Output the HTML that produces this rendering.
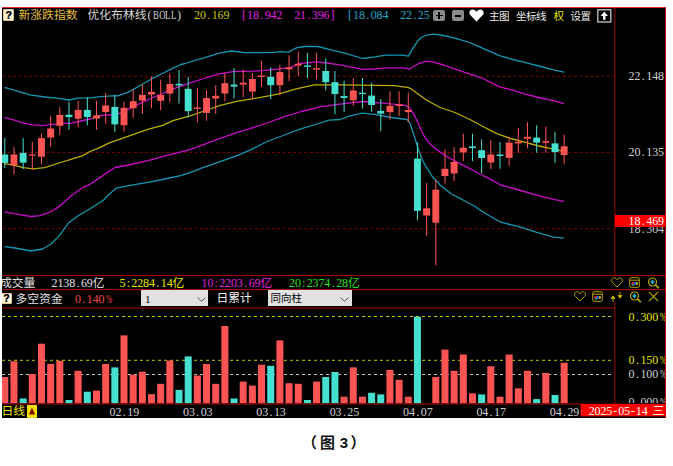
<!DOCTYPE html>
<html><head><meta charset="utf-8"><title>chart</title><style>
html,body{margin:0;padding:0;background:#fff;}
body{width:673px;height:466px;position:relative;overflow:hidden;}
.t{position:absolute;white-space:pre;font-size:12px;line-height:12px;}
.t i{display:inline-block;width:5.9px;text-align:center;font:12px/12px "Liberation Serif","Noto Serif CJK SC",serif;font-style:normal;vertical-align:top;}
.t b{display:inline-block;width:11.8px;text-align:center;font:11.8px/12px "Liberation Sans","Noto Sans CJK SC",sans-serif;font-weight:normal;vertical-align:top;}
.t u{display:inline-block;text-decoration:none;transform:scaleX(.72);}
.t u.p{transform:scaleX(.62);}
.clipb{position:absolute;left:615px;top:308px;width:50px;height:95px;overflow:hidden;}
.clipb .t{margin-left:-615px;margin-top:-308px;}
.s{font-family:"Liberation Sans","Noto Sans CJK SC",sans-serif;line-height:12px;}
.cap{font-family:"Liberation Sans","Noto Sans CJK SC",sans-serif;font-weight:bold;font-size:15px;line-height:16px;color:#111;}
.ico{position:absolute;}
</style></head><body>
<svg width="673" height="466" style="position:absolute;left:0;top:0">
<rect x="2" y="7" width="664" height="411" fill="#000"/>
<rect x="2" y="7" width="664" height="1" fill="#e8262a"/>
<rect x="665" y="7" width="1" height="411" fill="#c80000"/>
<rect x="2" y="275.0" width="663" height="1.1" fill="#a80000"/>
<rect x="2" y="289.0" width="663" height="1.1" fill="#a80000"/>
<rect x="2" y="307.5" width="613" height="1.1" fill="#a80000"/>
<rect x="2" y="403.4" width="579" height="1.1" fill="#a80000"/>
<rect x="614.3" y="8" width="1" height="267" fill="#a00000"/>
<rect x="614.3" y="302" width="1" height="101.5" fill="#a00000"/>
<line x1="2" y1="76.3" x2="614" y2="76.3" stroke="#7c0000" stroke-width="1" stroke-dasharray="3 2.5"/>
<line x1="2" y1="152.4" x2="614" y2="152.4" stroke="#7c0000" stroke-width="1" stroke-dasharray="3 2.5"/>
<line x1="2" y1="228.7" x2="614" y2="228.7" stroke="#7c0000" stroke-width="1" stroke-dasharray="3 2.5"/>
<line x1="2" y1="316.5" x2="614" y2="316.5" stroke="#c8c800" stroke-width="1" stroke-dasharray="3 3"/>
<line x1="2" y1="360.3" x2="614" y2="360.3" stroke="#c8c800" stroke-width="1" stroke-dasharray="3 3"/>
<line x1="2" y1="374.5" x2="614" y2="374.5" stroke="#c0c0c0" stroke-width="1" stroke-dasharray="3 3"/>
<defs><clipPath id="cc"><rect x="2" y="22" width="612" height="253"/></clipPath><clipPath id="cb"><rect x="2" y="308" width="612" height="95.5"/></clipPath></defs>
<g clip-path="url(#cc)">
<polyline points="4.5,87.3 15.0,90.3 30.0,94.8 45.0,97.0 57.0,98.2 69.0,100.0 78.0,98.2 90.0,97.8 100.3,96.7 112.3,95.8 117.5,95.8 127.8,92.4 141.5,84.7 151.9,78.7 162.2,73.5 172.5,68.4 181.0,64.5 185.0,63.5 202.2,58.4 219.4,53.2 231.4,51.0 236.5,51.5 243.4,52.7 262.3,52.7 274.3,52.3 280.0,51.6 288.6,52.1 295.5,48.2 304.0,46.5 317.8,46.5 328.1,49.1 345.3,53.4 362.5,58.5 375.0,56.9 385.3,55.2 402.5,55.2 408.5,56.1 412.8,48.4 418.0,40.6 422.0,37.0 426.5,35.1 433.4,34.1 443.7,35.5 457.5,38.9 467.8,42.0 475.0,44.9 482.9,48.4 499.6,55.7 510.7,59.0 524.7,62.4 538.6,66.0 552.6,69.6 564.0,72.1" fill="none" stroke="#1496b2" stroke-width="1.3" stroke-linejoin="round"/>
<polyline points="4.5,246.7 15.0,248.0 30.7,251.0 42.5,249.0 50.7,244.3 59.0,236.1 68.4,223.1 77.8,216.0 89.6,209.0 96.0,205.0 103.5,200.0 110.0,193.5 116.1,188.2 128.6,185.7 147.9,182.4 167.2,178.5 180.7,175.6 190.0,172.7 201.5,168.1 218.7,162.1 235.9,156.1 250.0,150.1 267.2,141.5 284.4,135.0 301.5,128.7 318.7,123.5 329.0,120.1 340.0,119.5 350.0,115.8 362.3,113.2 374.4,114.4 391.5,117.5 407.0,119.5 409.6,122.1 413.9,135.0 417.0,145.0 419.5,152.5 422.5,160.0 424.5,164.2 432.3,176.5 440.0,185.0 451.3,194.0 462.5,199.7 473.8,205.8 485.0,213.2 500.8,222.2 518.8,226.7 536.8,232.3 552.6,236.8 564.0,238.1" fill="none" stroke="#1496b2" stroke-width="1.3" stroke-linejoin="round"/>
<polyline points="4.5,117.3 15.0,120.3 22.5,122.9 33.0,124.8 42.0,125.6 52.5,124.4 63.0,123.3 70.6,123.3 81.0,121.0 90.0,119.0 100.3,115.6 108.0,115.0 115.8,114.7 124.4,111.3 141.5,102.7 158.7,95.0 170.8,89.8 185.0,84.6 202.2,79.0 219.4,73.8 233.1,71.6 253.7,71.2 265.8,70.4 280.0,68.8 290.3,67.6 298.9,63.7 316.1,61.9 323.0,62.5 340.1,64.9 362.5,69.3 375.0,69.0 385.3,67.8 402.5,67.8 409.4,69.0 418.0,63.8 426.5,61.2 433.4,62.1 443.7,65.0 457.5,69.8 475.0,75.8 482.9,78.5 499.6,86.9 510.7,89.7 524.7,93.9 538.6,97.5 552.6,100.3 564.0,103.6" fill="none" stroke="#c80cc8" stroke-width="1.3" stroke-linejoin="round"/>
<polyline points="4.5,211.8 14.2,213.7 30.7,216.5 40.0,215.6 47.2,213.2 53.0,210.5 59.0,206.6 65.0,201.5 70.8,196.0 82.5,187.7 90.0,184.3 101.6,176.6 108.0,172.0 115.1,167.5 128.6,165.0 147.9,160.6 167.2,155.4 190.0,149.6 201.5,145.4 218.7,138.9 235.9,132.9 250.0,128.7 267.2,123.0 284.4,116.6 301.5,111.5 318.7,107.2 335.9,104.6 350.0,102.9 362.3,101.5 383.0,103.2 405.3,105.4 409.6,107.5 413.9,114.4 419.0,124.7 421.5,131.0 425.0,137.5 430.0,143.8 435.7,148.8 445.4,155.8 455.0,161.1 467.9,167.6 480.8,174.5 490.0,179.2 500.8,185.0 518.8,190.0 541.4,196.3 554.9,199.7 564.0,201.4" fill="none" stroke="#c80cc8" stroke-width="1.3" stroke-linejoin="round"/>
<polyline points="4.5,163.6 14.2,165.3 23.6,167.7 33.0,168.9 44.8,167.7 59.0,163.0 70.8,159.4 82.5,155.9 90.0,151.5 99.7,147.6 109.3,142.8 128.6,136.1 147.9,129.3 163.4,125.1 173.0,120.6 190.0,115.8 207.3,110.0 219.4,105.6 236.5,101.3 253.7,98.7 267.5,96.2 280.0,93.7 297.2,88.6 314.4,84.8 340.0,84.9 375.0,85.3 393.9,85.6 407.6,87.4 411.0,88.7 418.0,93.9 426.5,100.0 440.0,107.5 455.0,112.5 469.0,119.0 482.9,126.5 496.8,133.7 510.7,138.5 524.7,142.1 538.6,146.0 552.6,148.8 564.0,151.3" fill="none" stroke="#bcac00" stroke-width="1.3" stroke-linejoin="round"/>
<rect x="4.30" y="138.0" width="1" height="30.2" fill="#46e0d0"/>
<rect x="1.35" y="154.5" width="6.9" height="8.4" fill="#46e0d0"/>
<rect x="13.47" y="146.8" width="1" height="27.7" fill="#ff5454"/>
<rect x="10.52" y="154.5" width="6.9" height="10.8" fill="#ff5454"/>
<rect x="22.64" y="138.0" width="1" height="31.0" fill="#46e0d0"/>
<rect x="19.69" y="152.9" width="6.9" height="9.8" fill="#46e0d0"/>
<rect x="31.81" y="141.8" width="1" height="28.0" fill="#ff5454"/>
<rect x="28.86" y="154.4" width="6.9" height="1.2" fill="#ff5454"/>
<rect x="40.98" y="133.5" width="1" height="31.0" fill="#ff5454"/>
<rect x="38.03" y="138.1" width="6.9" height="18.6" fill="#ff5454"/>
<rect x="50.15" y="115.8" width="1" height="31.0" fill="#ff5454"/>
<rect x="47.20" y="128.5" width="6.9" height="9.0" fill="#ff5454"/>
<rect x="59.32" y="107.0" width="1" height="28.0" fill="#ff5454"/>
<rect x="56.37" y="114.9" width="6.9" height="10.9" fill="#ff5454"/>
<rect x="68.49" y="101.7" width="1" height="28.1" fill="#46e0d0"/>
<rect x="65.54" y="114.7" width="6.9" height="2.4" fill="#46e0d0"/>
<rect x="77.66" y="100.9" width="1" height="26.3" fill="#ff5454"/>
<rect x="74.71" y="109.9" width="6.9" height="8.9" fill="#ff5454"/>
<rect x="86.83" y="97.0" width="1" height="28.3" fill="#46e0d0"/>
<rect x="83.88" y="109.9" width="6.9" height="7.1" fill="#46e0d0"/>
<rect x="96.00" y="100.9" width="1" height="28.9" fill="#ff5454"/>
<rect x="93.05" y="115.4" width="6.9" height="3.1" fill="#ff5454"/>
<rect x="105.17" y="93.0" width="1" height="30.8" fill="#ff5454"/>
<rect x="102.22" y="105.5" width="6.9" height="6.5" fill="#ff5454"/>
<rect x="114.34" y="94.7" width="1" height="37.6" fill="#46e0d0"/>
<rect x="111.39" y="106.9" width="6.9" height="17.5" fill="#46e0d0"/>
<rect x="123.51" y="101.5" width="1" height="30.0" fill="#ff5454"/>
<rect x="120.56" y="107.8" width="6.9" height="17.4" fill="#ff5454"/>
<rect x="132.68" y="89.6" width="1" height="28.2" fill="#ff5454"/>
<rect x="129.73" y="101.2" width="6.9" height="7.0" fill="#ff5454"/>
<rect x="141.85" y="84.0" width="1" height="30.0" fill="#ff5454"/>
<rect x="138.90" y="94.8" width="6.9" height="5.7" fill="#ff5454"/>
<rect x="151.02" y="76.5" width="1" height="31.8" fill="#ff5454"/>
<rect x="148.07" y="91.9" width="6.9" height="2.6" fill="#ff5454"/>
<rect x="160.19" y="79.6" width="1" height="30.7" fill="#ff5454"/>
<rect x="157.24" y="94.9" width="6.9" height="5.9" fill="#ff5454"/>
<rect x="169.36" y="73.5" width="1" height="28.4" fill="#ff5454"/>
<rect x="166.41" y="84.0" width="6.9" height="9.5" fill="#ff5454"/>
<rect x="178.53" y="70.1" width="1" height="33.5" fill="#46e0d0"/>
<rect x="175.58" y="83.8" width="6.9" height="1.6" fill="#46e0d0"/>
<rect x="187.70" y="76.8" width="1" height="40.7" fill="#46e0d0"/>
<rect x="184.75" y="88.8" width="6.9" height="22.3" fill="#46e0d0"/>
<rect x="196.87" y="88.0" width="1" height="34.2" fill="#ff5454"/>
<rect x="193.92" y="107.5" width="6.9" height="1.4" fill="#ff5454"/>
<rect x="206.04" y="90.2" width="1" height="30.6" fill="#ff5454"/>
<rect x="203.09" y="98.0" width="6.9" height="15.0" fill="#ff5454"/>
<rect x="215.21" y="85.2" width="1" height="28.7" fill="#ff5454"/>
<rect x="212.26" y="95.8" width="6.9" height="2.7" fill="#ff5454"/>
<rect x="224.38" y="72.9" width="1" height="28.4" fill="#ff5454"/>
<rect x="221.43" y="83.2" width="6.9" height="10.3" fill="#ff5454"/>
<rect x="233.55" y="67.9" width="1" height="30.6" fill="#46e0d0"/>
<rect x="230.60" y="84.6" width="6.9" height="2.0" fill="#46e0d0"/>
<rect x="242.72" y="69.3" width="1" height="27.9" fill="#ff5454"/>
<rect x="239.77" y="82.7" width="6.9" height="1.9" fill="#ff5454"/>
<rect x="251.89" y="72.9" width="1" height="26.2" fill="#ff5454"/>
<rect x="248.94" y="79.0" width="6.9" height="12.6" fill="#ff5454"/>
<rect x="261.06" y="60.9" width="1" height="25.9" fill="#ff5454"/>
<rect x="258.11" y="75.5" width="6.9" height="1.5" fill="#ff5454"/>
<rect x="270.23" y="67.3" width="1" height="31.8" fill="#46e0d0"/>
<rect x="267.28" y="76.8" width="6.9" height="8.4" fill="#46e0d0"/>
<rect x="279.40" y="65.1" width="1" height="30.1" fill="#ff5454"/>
<rect x="276.45" y="72.1" width="6.9" height="13.1" fill="#ff5454"/>
<rect x="288.57" y="55.3" width="1" height="26.0" fill="#ff5454"/>
<rect x="285.62" y="67.3" width="6.9" height="2.0" fill="#ff5454"/>
<rect x="297.74" y="51.7" width="1" height="24.5" fill="#ff5454"/>
<rect x="294.79" y="63.7" width="6.9" height="1.9" fill="#ff5454"/>
<rect x="306.91" y="52.9" width="1" height="25.1" fill="#46e0d0"/>
<rect x="303.96" y="65.4" width="6.9" height="1.4" fill="#46e0d0"/>
<rect x="316.08" y="52.9" width="1" height="26.5" fill="#ff5454"/>
<rect x="313.13" y="68.2" width="6.9" height="1.4" fill="#ff5454"/>
<rect x="325.25" y="58.5" width="1" height="32.0" fill="#46e0d0"/>
<rect x="322.30" y="71.0" width="6.9" height="11.2" fill="#46e0d0"/>
<rect x="334.42" y="71.0" width="1" height="43.2" fill="#46e0d0"/>
<rect x="331.47" y="82.2" width="6.9" height="11.9" fill="#46e0d0"/>
<rect x="343.59" y="80.8" width="1" height="31.2" fill="#46e0d0"/>
<rect x="340.64" y="96.1" width="6.9" height="1.9" fill="#46e0d0"/>
<rect x="352.76" y="78.0" width="1" height="27.8" fill="#ff5454"/>
<rect x="349.81" y="90.5" width="6.9" height="9.8" fill="#ff5454"/>
<rect x="361.93" y="78.0" width="1" height="30.6" fill="#46e0d0"/>
<rect x="358.98" y="92.7" width="6.9" height="1.4" fill="#46e0d0"/>
<rect x="371.10" y="82.6" width="1" height="29.2" fill="#46e0d0"/>
<rect x="368.15" y="95.6" width="6.9" height="9.4" fill="#46e0d0"/>
<rect x="380.27" y="99.0" width="1" height="32.2" fill="#46e0d0"/>
<rect x="377.32" y="110.9" width="6.9" height="2.7" fill="#46e0d0"/>
<rect x="389.44" y="91.3" width="1" height="28.5" fill="#ff5454"/>
<rect x="386.49" y="105.8" width="6.9" height="6.3" fill="#ff5454"/>
<rect x="398.61" y="91.3" width="1" height="24.5" fill="#ff5454"/>
<rect x="395.66" y="104.4" width="6.9" height="1.6" fill="#ff5454"/>
<rect x="407.78" y="92.7" width="1" height="29.8" fill="#ff5454"/>
<rect x="404.83" y="110.0" width="6.9" height="2.1" fill="#ff5454"/>
<rect x="416.95" y="142.4" width="1" height="77.7" fill="#46e0d0"/>
<rect x="414.00" y="158.6" width="6.9" height="52.2" fill="#46e0d0"/>
<rect x="426.12" y="182.8" width="1" height="52.9" fill="#ff5454"/>
<rect x="423.17" y="208.3" width="6.9" height="7.2" fill="#ff5454"/>
<rect x="435.29" y="179.7" width="1" height="85.5" fill="#ff5454"/>
<rect x="432.34" y="189.7" width="6.9" height="32.9" fill="#ff5454"/>
<rect x="444.46" y="149.3" width="1" height="34.1" fill="#ff5454"/>
<rect x="441.51" y="168.8" width="6.9" height="7.2" fill="#ff5454"/>
<rect x="453.63" y="147.1" width="1" height="34.2" fill="#ff5454"/>
<rect x="450.68" y="162.0" width="6.9" height="11.5" fill="#ff5454"/>
<rect x="462.80" y="133.7" width="1" height="27.4" fill="#ff5454"/>
<rect x="459.85" y="147.7" width="6.9" height="4.7" fill="#ff5454"/>
<rect x="471.97" y="133.7" width="1" height="27.4" fill="#46e0d0"/>
<rect x="469.02" y="146.4" width="6.9" height="1.6" fill="#46e0d0"/>
<rect x="481.14" y="139.3" width="1" height="34.2" fill="#46e0d0"/>
<rect x="478.19" y="150.2" width="6.9" height="7.8" fill="#46e0d0"/>
<rect x="490.31" y="140.0" width="1" height="29.0" fill="#ff5454"/>
<rect x="487.36" y="154.5" width="6.9" height="8.0" fill="#ff5454"/>
<rect x="499.48" y="142.0" width="1" height="26.7" fill="#46e0d0"/>
<rect x="496.53" y="154.5" width="6.9" height="1.5" fill="#46e0d0"/>
<rect x="508.65" y="136.8" width="1" height="29.0" fill="#ff5454"/>
<rect x="505.70" y="142.6" width="6.9" height="15.3" fill="#ff5454"/>
<rect x="517.82" y="128.0" width="1" height="24.7" fill="#ff5454"/>
<rect x="514.87" y="141.7" width="6.9" height="1.7" fill="#ff5454"/>
<rect x="526.99" y="122.3" width="1" height="26.1" fill="#ff5454"/>
<rect x="524.04" y="136.8" width="6.9" height="2.0" fill="#ff5454"/>
<rect x="536.16" y="125.2" width="1" height="27.5" fill="#46e0d0"/>
<rect x="533.21" y="137.6" width="6.9" height="5.0" fill="#46e0d0"/>
<rect x="545.33" y="126.6" width="1" height="26.1" fill="#ff5454"/>
<rect x="542.38" y="141.1" width="6.9" height="1.7" fill="#ff5454"/>
<rect x="554.50" y="131.8" width="1" height="31.1" fill="#46e0d0"/>
<rect x="551.55" y="143.4" width="6.9" height="8.7" fill="#46e0d0"/>
<rect x="563.67" y="134.7" width="1" height="29.6" fill="#ff5454"/>
<rect x="560.72" y="146.3" width="6.9" height="8.7" fill="#ff5454"/>
</g>
<g clip-path="url(#cb)">
<rect x="1.30" y="377.0" width="7" height="26.3" fill="#ff5454"/>
<rect x="10.47" y="361.3" width="7" height="42.0" fill="#ff5454"/>
<rect x="19.64" y="398.5" width="7" height="4.8" fill="#46e0d0"/>
<rect x="28.81" y="374.0" width="7" height="29.3" fill="#ff5454"/>
<rect x="37.98" y="343.7" width="7" height="59.6" fill="#ff5454"/>
<rect x="47.15" y="364.0" width="7" height="39.3" fill="#ff5454"/>
<rect x="56.32" y="360.9" width="7" height="42.4" fill="#ff5454"/>
<rect x="65.49" y="400.0" width="7" height="3.3" fill="#46e0d0"/>
<rect x="74.66" y="370.8" width="7" height="32.5" fill="#ff5454"/>
<rect x="83.83" y="391.7" width="7" height="11.6" fill="#46e0d0"/>
<rect x="93.00" y="390.6" width="7" height="12.7" fill="#ff5454"/>
<rect x="102.17" y="364.0" width="7" height="39.3" fill="#ff5454"/>
<rect x="111.34" y="367.4" width="7" height="35.9" fill="#46e0d0"/>
<rect x="120.51" y="335.4" width="7" height="67.9" fill="#ff5454"/>
<rect x="129.68" y="374.8" width="7" height="28.5" fill="#ff5454"/>
<rect x="138.85" y="371.7" width="7" height="31.6" fill="#ff5454"/>
<rect x="148.02" y="394.2" width="7" height="9.1" fill="#ff5454"/>
<rect x="157.19" y="383.8" width="7" height="19.5" fill="#ff5454"/>
<rect x="166.36" y="360.6" width="7" height="42.7" fill="#ff5454"/>
<rect x="175.53" y="389.9" width="7" height="13.4" fill="#46e0d0"/>
<rect x="184.70" y="356.4" width="7" height="46.9" fill="#46e0d0"/>
<rect x="193.87" y="375.5" width="7" height="27.8" fill="#ff5454"/>
<rect x="203.04" y="364.0" width="7" height="39.3" fill="#ff5454"/>
<rect x="212.21" y="383.8" width="7" height="19.5" fill="#ff5454"/>
<rect x="221.38" y="326.0" width="7" height="77.3" fill="#ff5454"/>
<rect x="230.55" y="398.5" width="7" height="4.8" fill="#46e0d0"/>
<rect x="239.72" y="381.6" width="7" height="21.7" fill="#ff5454"/>
<rect x="248.89" y="385.6" width="7" height="17.7" fill="#ff5454"/>
<rect x="258.06" y="364.7" width="7" height="38.6" fill="#ff5454"/>
<rect x="267.23" y="365.8" width="7" height="37.5" fill="#46e0d0"/>
<rect x="276.40" y="340.4" width="7" height="62.9" fill="#ff5454"/>
<rect x="285.57" y="383.2" width="7" height="20.1" fill="#ff5454"/>
<rect x="294.74" y="383.8" width="7" height="19.5" fill="#ff5454"/>
<rect x="303.91" y="400.0" width="7" height="3.3" fill="#46e0d0"/>
<rect x="313.08" y="381.6" width="7" height="21.7" fill="#ff5454"/>
<rect x="322.25" y="377.0" width="7" height="26.3" fill="#46e0d0"/>
<rect x="331.42" y="372.0" width="7" height="31.3" fill="#46e0d0"/>
<rect x="340.59" y="396.7" width="7" height="6.6" fill="#ff5454"/>
<rect x="349.76" y="367.4" width="7" height="35.9" fill="#ff5454"/>
<rect x="358.93" y="396.7" width="7" height="6.6" fill="#ff5454"/>
<rect x="368.10" y="392.8" width="7" height="10.5" fill="#46e0d0"/>
<rect x="377.27" y="394.4" width="7" height="8.9" fill="#46e0d0"/>
<rect x="386.44" y="369.9" width="7" height="33.4" fill="#ff5454"/>
<rect x="395.61" y="379.8" width="7" height="23.5" fill="#ff5454"/>
<rect x="404.78" y="396.7" width="7" height="6.6" fill="#ff5454"/>
<rect x="413.95" y="316.7" width="7" height="86.6" fill="#46e0d0"/>
<rect x="432.29" y="377.0" width="7" height="26.3" fill="#ff5454"/>
<rect x="441.46" y="349.6" width="7" height="53.7" fill="#ff5454"/>
<rect x="450.63" y="370.8" width="7" height="32.5" fill="#ff5454"/>
<rect x="459.80" y="354.5" width="7" height="48.8" fill="#ff5454"/>
<rect x="468.97" y="393.3" width="7" height="10.0" fill="#ff5454"/>
<rect x="478.14" y="394.4" width="7" height="8.9" fill="#46e0d0"/>
<rect x="487.31" y="366.3" width="7" height="37.0" fill="#ff5454"/>
<rect x="496.48" y="396.7" width="7" height="6.6" fill="#ff5454"/>
<rect x="505.65" y="354.5" width="7" height="48.8" fill="#ff5454"/>
<rect x="514.82" y="388.3" width="7" height="15.0" fill="#ff5454"/>
<rect x="523.99" y="370.8" width="7" height="32.5" fill="#ff5454"/>
<rect x="533.16" y="399.1" width="7" height="4.2" fill="#46e0d0"/>
<rect x="542.33" y="373.0" width="7" height="30.3" fill="#ff5454"/>
<rect x="551.50" y="395.0" width="7" height="8.3" fill="#46e0d0"/>
<rect x="560.67" y="362.8" width="7" height="40.5" fill="#ff5454"/>
</g>
<rect x="580.6" y="403.8" width="84.6" height="12.6" fill="#ff0000"/><rect x="581" y="410.5" width="1.2" height="1.2" fill="#999"/>
</svg>
<div style="position:absolute;left:0;top:0;width:673px;height:466px;clip-path:inset(7px 7px 48px 2px)"><div class="ico" style="left:3px;top:9px;width:11px;height:11.5px;background:#fff6d8;border-radius:2px;box-shadow:inset 0 0 0 1px #e8c888;"></div>
<div class="t" style="left:3px;top:9.5px;width:11px;text-align:center;font:bold 10.5px/11px 'Liberation Sans',sans-serif;color:#111;text-shadow:0.4px 0 0 #111;">?</div>
<div style="position:absolute;left:2px;top:292px;width:10px;height:12px;overflow:hidden;"><div class="ico" style="left:-1.5px;top:0.5px;width:11.5px;height:11px;background:#fff6d8;border-radius:2px;box-shadow:inset 0 0 0 1px #e8c888;"></div><div class="t" style="left:-1.5px;top:1px;width:11.5px;text-align:center;font:bold 10.5px/11px 'Liberation Sans',sans-serif;color:#111;text-shadow:0.4px 0 0 #111;">?</div></div>
<div class="ico" style="left:433px;top:9.7px;width:12px;height:11px;background:#8a8a8a;border-radius:2px;"></div>
<div class="ico" style="left:435.5px;top:14.7px;width:7px;height:1.6px;background:#000;"></div>
<div class="ico" style="left:438.2px;top:12px;width:1.6px;height:7px;background:#000;"></div>
<div class="ico" style="left:452px;top:9.7px;width:11.5px;height:11px;background:#8a8a8a;border-radius:2px;"></div>
<div class="ico" style="left:454.5px;top:14.5px;width:6.5px;height:2px;background:#000;"></div>
<svg class="ico" style="left:469px;top:9px" width="15" height="13" viewBox="0 0 15 13"><path d="M7.5 12.5 L1.2 6 C-0.6 3.8 0.6 0.4 3.6 0.4 C5.4 0.4 6.8 1.6 7.5 2.8 C8.2 1.6 9.6 0.4 11.4 0.4 C14.4 0.4 15.6 3.8 13.8 6 Z" fill="#fff"/></svg>
<svg class="ico" style="left:597px;top:8.5px" width="15" height="14" viewBox="0 0 15 14"><rect x="0.8" y="0.8" width="13" height="12.2" fill="none" stroke="#d8d8d8" stroke-width="1.2"/><path d="M7.3 2.5 L11 7 L8.5 7 L8.5 10.8 L6.1 10.8 L6.1 7 L3.6 7 Z" fill="#fff"/></svg>
<div class="ico" style="left:141.3px;top:290.4px;width:67px;height:16px;background:#e2e2e2;"></div>
<div class="t" style="left:145px;top:292.5px;font:11px/12px 'Liberation Serif',serif;color:#000;">1</div>
<svg class="ico" style="left:197px;top:296.5px" width="9" height="5" viewBox="0 0 9 5"><path d="M0.5 0.5 L4.5 4.3 L8.5 0.5" fill="none" stroke="#555" stroke-width="1"/></svg>
<div class="ico" style="left:268.4px;top:290.4px;width:83.4px;height:16px;background:#e2e2e2;"></div>
<div class="t" style="left:270.5px;top:292.2px;font:10.5px/12px 'Liberation Sans','Noto Sans CJK SC',sans-serif;color:#000;">同向柱</div>
<svg class="ico" style="left:340px;top:296.5px" width="9" height="5" viewBox="0 0 9 5"><path d="M0.5 0.5 L4.5 4.3 L8.5 0.5" fill="none" stroke="#555" stroke-width="1"/></svg>
<svg class="ico" style="left:610.5px;top:277px" width="12" height="11" viewBox="0 0 12 11"><path d="M6 10 L1.3 5.2 C-0.2 3.4 0.8 0.8 3.2 0.8 C4.5 0.8 5.5 1.8 6 2.7 C6.5 1.8 7.5 0.8 8.8 0.8 C11.2 0.8 12.2 3.4 10.7 5.2 Z" fill="none" stroke="#b0a400" stroke-width="1"/></svg>
<svg class="ico" style="left:629px;top:276.8px" width="11" height="11" viewBox="0 0 11 11"><rect x="0.7" y="0.7" width="9.6" height="9.6" rx="1.5" fill="none" stroke="#b4a600" stroke-width="1"/><line x1="0.7" y1="3.2" x2="10.3" y2="3.2" stroke="#b4a600"/><rect x="2.5" y="5" width="2.5" height="2.5" fill="#e02020"/><rect x="5" y="5" width="2" height="2.5" fill="#2060e0"/><rect x="2.5" y="7.2" width="3" height="1.3" fill="#20c0c0"/><rect x="7" y="5" width="1.8" height="3" fill="#b4a600"/></svg>
<svg class="ico" style="left:647px;top:276.5px" width="13" height="12" viewBox="0 0 13 12"><circle cx="5.5" cy="5" r="4" fill="none" stroke="#b4a600" stroke-width="1.2"/><rect x="3.8" y="3.3" width="3.4" height="3.4" fill="#2aa0b0" transform="rotate(45 5.5 5)"/><line x1="8.3" y1="7.8" x2="11.8" y2="11.2" stroke="#b4a600" stroke-width="1.8"/></svg>
<svg class="ico" style="left:573.5px;top:291.2px" width="12" height="11" viewBox="0 0 12 11"><path d="M6 10 L1.3 5.2 C-0.2 3.4 0.8 0.8 3.2 0.8 C4.5 0.8 5.5 1.8 6 2.7 C6.5 1.8 7.5 0.8 8.8 0.8 C11.2 0.8 12.2 3.4 10.7 5.2 Z" fill="none" stroke="#b0a400" stroke-width="1"/></svg>
<svg class="ico" style="left:591.7px;top:291px" width="11" height="11" viewBox="0 0 11 11"><rect x="0.7" y="0.7" width="9.6" height="9.6" rx="1.5" fill="none" stroke="#b4a600" stroke-width="1"/><line x1="0.7" y1="3.2" x2="10.3" y2="3.2" stroke="#b4a600"/><rect x="2.5" y="5" width="2.5" height="2.5" fill="#e02020"/><rect x="5" y="5" width="2" height="2.5" fill="#2060e0"/><rect x="2.5" y="7.2" width="3" height="1.3" fill="#20c0c0"/><rect x="7" y="5" width="1.8" height="3" fill="#b4a600"/></svg>
<svg class="ico" style="left:628.8px;top:290.6px" width="13" height="12" viewBox="0 0 13 12"><circle cx="5.5" cy="5" r="4" fill="none" stroke="#b4a600" stroke-width="1.2"/><rect x="3.8" y="3.3" width="3.4" height="3.4" fill="#2aa0b0" transform="rotate(45 5.5 5)"/><line x1="8.3" y1="7.8" x2="11.8" y2="11.2" stroke="#b4a600" stroke-width="1.8"/></svg>
<svg class="ico" style="left:610.5px;top:290.5px" width="12" height="12" viewBox="0 0 12 12"><path d="M2 11 L2 7 M0 7.5 L2 4.8 L4 7.5 Z" stroke="#b4a600" fill="#b4a600" stroke-width="1"/><path d="M9 1 L9 5 M7 4.5 L9 7.2 L11 4.5 Z" stroke="#b4a600" fill="#b4a600" stroke-width="1"/></svg>
<svg class="ico" style="left:648px;top:291px" width="11" height="11" viewBox="0 0 11 11"><path d="M0.8 0.8 L10.2 10.2 M10.2 0.8 L0.8 10.2" stroke="#b4a600" stroke-width="1.2"/></svg>
<div class="ico" style="left:27px;top:405px;width:10px;height:12.5px;background:#f0e000;"></div>
<svg class="ico" style="left:27px;top:405px" width="10" height="12" viewBox="0 0 10 12"><path d="M5 2.5 L8 9.5 L2 9.5 Z" fill="#8a0000"/></svg>
<div class="t" style="left:18.5px;top:8.5px;color:#e6be3c;"><b>新</b><b>涨</b><b>跌</b><b>指</b><b>数</b></div>
<div class="t" style="left:87.5px;top:8.5px;color:#d8d8d8;"><b>优</b><b>化</b><b>布</b><b>林</b><b>线</b><i>(</i><i><u>B</u></i><i><u>O</u></i><i><u>L</u></i><i><u>L</u></i><i>)</i></div>
<div class="t" style="left:194px;top:8.5px;"><span style="color:#c8c800"><i>2</i><i>0</i><i>.</i><i>1</i><i>6</i><i>9</i><i> </i><i> </i></span><span style="color:#e020e0"><i>[</i><i>1</i><i>8</i><i>.</i><i>9</i><i>4</i><i>2</i><i> </i><i> </i><i>2</i><i>1</i><i>.</i><i>3</i><i>9</i><i>6</i><i>]</i><i> </i><i> </i></span><span style="color:#20a8c8"><i>[</i><i>1</i><i>8</i><i>.</i><i>0</i><i>8</i><i>4</i><i> </i><i> </i><i>2</i><i>2</i><i>.</i><i>2</i><i>5</i></span></div>
<div class="t s" style="left:489px;top:9.5px;color:#e8e8e8;font-size:10.5px;letter-spacing:-0.5px">主图</div>
<div class="t s" style="left:516px;top:9.5px;color:#e8e8e8;font-size:10.5px;letter-spacing:-0.5px">坐标线</div>
<div class="t s" style="left:553.5px;top:9.5px;color:#e8e800;font-size:10.5px;letter-spacing:-0.5px">权</div>
<div class="t s" style="left:570.5px;top:9.5px;color:#e8e8e8;font-size:10.5px;letter-spacing:-0.5px">设置</div>
<div class="t" style="left:628.6px;top:70px;color:#d0d0d0;"><i>2</i><i>2</i><i>.</i><i>1</i><i>4</i><i>8</i></div>
<div class="t" style="left:628.6px;top:146px;color:#d0d0d0;"><i>2</i><i>0</i><i>.</i><i>1</i><i>3</i><i>5</i></div>
<div class="t" style="left:628.6px;top:223px;color:#c8c8c8;"><i>1</i><i>8</i><i>.</i><i>3</i><i>0</i><i>4</i></div>
<div style="position:absolute;left:615px;top:215px;width:50.4px;height:11.7px;background:#ff0000"></div>
<div class="t" style="left:628.6px;top:215px;color:#ffffff;"><i>1</i><i>8</i><i>.</i><i>4</i><i>6</i><i>9</i></div>
<div class="t" style="left:0px;top:276.5px;color:#e0e0e0;"><b>成</b><b>交</b><b>量</b></div>
<div class="t" style="left:51.5px;top:276.5px;color:#e0e0e0;"><i>2</i><i>1</i><i>3</i><i>8</i><i>.</i><i>6</i><i>9</i><b>亿</b></div>
<div class="t" style="left:119.5px;top:276.5px;color:#e8e800;"><i>5</i><i>:</i><i>2</i><i>2</i><i>8</i><i>4</i><i>.</i><i>1</i><i>4</i><b>亿</b></div>
<div class="t" style="left:201.5px;top:276.5px;color:#e020e0;"><i>1</i><i>0</i><i>:</i><i>2</i><i>2</i><i>0</i><i>3</i><i>.</i><i>6</i><i>9</i><b>亿</b></div>
<div class="t" style="left:289px;top:276.5px;color:#20e020;"><i>2</i><i>0</i><i>:</i><i>2</i><i>3</i><i>7</i><i>4</i><i>.</i><i>2</i><i>8</i><b>亿</b></div>
<div class="t" style="left:15.5px;top:292.5px;color:#e0e0e0;"><b>多</b><b>空</b><b>资</b><b>金</b></div>
<div class="t" style="left:75px;top:293px;color:#f04848;"><i>0</i><i>.</i><i>1</i><i>4</i><i>0</i><i><u class="p">%</u></i></div>
<div class="t" style="left:216.5px;top:292px;color:#f0f0f0;"><b>日</b><b>累</b><b>计</b></div>
<div class="clipb">
<div class="t" style="left:628.6px;top:310.5px;color:#e0e000;"><i>0</i><i>.</i><i>3</i><i>0</i><i>0</i><i><u class="p">%</u></i></div>
<div class="t" style="left:628.6px;top:353.5px;color:#e0e000;"><i>0</i><i>.</i><i>1</i><i>5</i><i>0</i><i><u class="p">%</u></i></div>
<div class="t" style="left:628.6px;top:368px;color:#d0d0d0;"><i>0</i><i>.</i><i>1</i><i>0</i><i>0</i><i><u class="p">%</u></i></div>
<div class="t" style="left:628.6px;top:395.5px;color:#d0d0d0;"><i>0</i><i>.</i><i>0</i><i>0</i><i>0</i><i><u class="p">%</u></i></div>
</div>
<div class="t" style="left:109.6px;top:405.5px;color:#d0d0d0;"><i>0</i><i>2</i><i>.</i><i>1</i><i>9</i></div>
<div class="t" style="left:183.0px;top:405.5px;color:#d0d0d0;"><i>0</i><i>3</i><i>.</i><i>0</i><i>3</i></div>
<div class="t" style="left:256.3px;top:405.5px;color:#d0d0d0;"><i>0</i><i>3</i><i>.</i><i>1</i><i>3</i></div>
<div class="t" style="left:329.7px;top:405.5px;color:#d0d0d0;"><i>0</i><i>3</i><i>.</i><i>2</i><i>5</i></div>
<div class="t" style="left:403.1px;top:405.5px;color:#d0d0d0;"><i>0</i><i>4</i><i>.</i><i>0</i><i>7</i></div>
<div class="t" style="left:476.4px;top:405.5px;color:#d0d0d0;"><i>0</i><i>4</i><i>.</i><i>1</i><i>7</i></div>
<div class="t" style="left:549.8px;top:405.5px;color:#d0d0d0;"><i>0</i><i>4</i><i>.</i><i>2</i><i>9</i></div>
<div class="t" style="left:588.7px;top:405px;color:#ffffff;"><i>2</i><i>0</i><i>2</i><i>5</i><i>-</i><i>0</i><i>5</i><i>-</i><i>1</i><i>4</i></div>
<div class="t" style="left:652.5px;top:404.5px;color:#ffffff;"><b>三</b></div>
<div class="t" style="left:1.5px;top:405px;color:#f0e000;"><b>日</b><b>线</b></div>
</div>
<div class="t cap" style="left:302px;top:434.8px;"><span style="display:inline-block;width:18px">（</span><span style="display:inline-block;width:15.63px">图</span> <span style="display:inline-block;width:10.6px">3</span>）</div>
</body></html>
